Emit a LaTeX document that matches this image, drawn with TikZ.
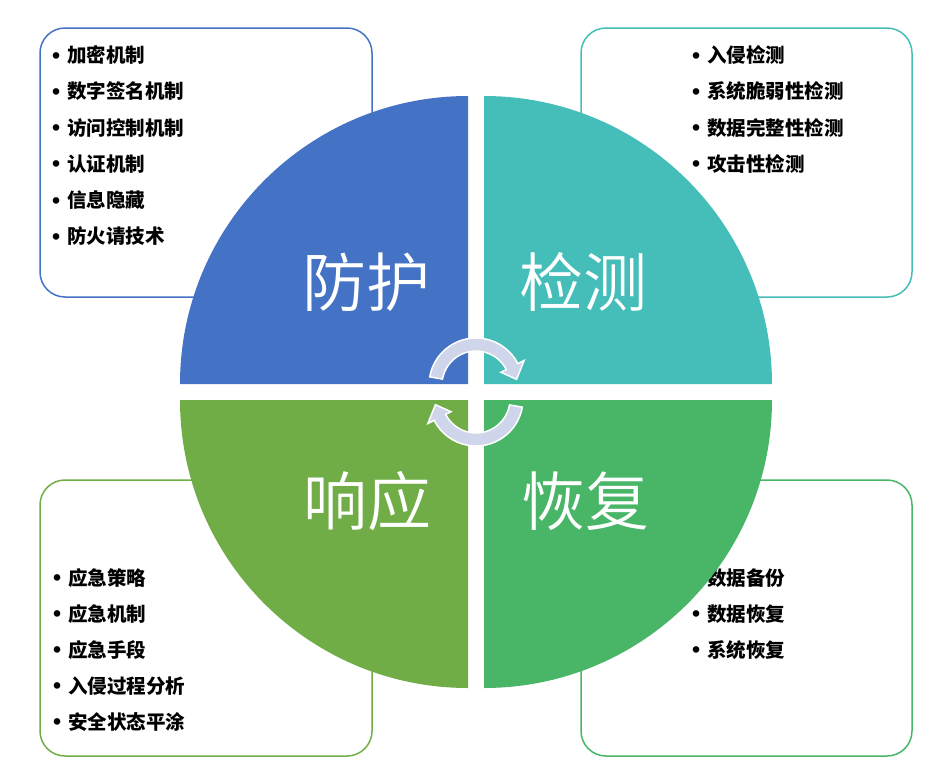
\documentclass[tikz,border=0pt]{standalone}
\usepackage{fontspec}
\setmainfont{Noto Sans CJK SC}
\newfontfamily\biglabelfont{Noto Sans CJK SC DemiLight}
\newfontfamily\bulletfont{Liberation Sans}
\definecolor{cBlue}{HTML}{4472C4}
\definecolor{cTeal}{HTML}{45BDB8}
\definecolor{cGreenA}{HTML}{70AD47}
\definecolor{cGreenB}{HTML}{48B567}
\definecolor{cArrow}{HTML}{CFD5EA}
\tikzset{
  listbox/.style={line width=1.5pt, rounded corners=25pt, fill=white},
  item/.style={anchor=west, inner sep=0pt, font=\fontsize{19.5}{20}\selectfont\bfseries, text=black},
  bigtext/.style={anchor=center, inner sep=0pt, font=\biglabelfont\fontsize{64}{64}\selectfont, text=white},
  cyclearrow/.style={fill=cArrow, draw=white, line width=1.5pt, line join=miter}
}
\newcommand{\bul}{\makebox[15pt][l]{\bulletfont\bfseries\fontsize{23}{23}\selectfont\raisebox{-0.5pt}{\textbullet}}}
\begin{document}
\begin{tikzpicture}[x=1pt, y=-1pt]
\useasboundingbox (0,0) rectangle (943,777);
% boxes
\draw[listbox, draw=cBlue] (40,28) rectangle (372,297);
\draw[listbox, draw=cTeal] (581,28) rectangle (912,297);
\draw[listbox, draw=cGreenA] (40,480) rectangle (372,756);
\draw[listbox, draw=cGreenB] (581,480) rectangle (912,756);
% lists
\foreach \t [count=\i] in {加密机制,数字签名机制,访问控制机制,认证机制,信息隐藏,防火请技术}
  \node[item] (tl\i) at (52,{55+36.3*(\i-1)}) {\bul\t};
\foreach \t [count=\i] in {入侵检测,系统脆弱性检测,数据完整性检测,攻击性检测}
  \node[item] (tr\i) at (692,{55+36.3*(\i-1)}) {\bul\t};
\foreach \t [count=\i] in {应急策略,应急机制,应急手段,入侵过程分析,安全状态平涂}
  \node[item] (bl\i) at (53,{578+36*(\i-1)}) {\bul\t};
\foreach \t [count=\i] in {数据备份,数据恢复,系统恢复}
  \node[item] (br\i) at (692,{578+36*(\i-1)}) {\bul\t};
% quadrants
\fill[cBlue] (468,384) -- (180,384) arc[start angle=180, end angle=270, radius=288] -- cycle;
\fill[cTeal] (484,384) -- (484,96) arc[start angle=270, end angle=360, radius=288] -- cycle;
\fill[cGreenA] (468,400) -- (468,688) arc[start angle=90, end angle=180, radius=288] -- cycle;
\fill[cGreenB] (484,400) -- (772,400) arc[start angle=0, end angle=90, radius=288] -- cycle;
% labels
\node[bigtext] (fh) at (366,282) {防护};
\node[bigtext] (jc) at (583,282) {检测};
\node[bigtext] (xy) at (367,501) {响应};
\node[bigtext] (hf) at (585,501) {恢复};
% cycle arrows
\begin{scope}[shift={(476,385)}]
\draw[cyclearrow] (190:47) arc[start angle=190, end angle=333, radius=47]
  -- (333:54) -- (352:41) -- (333:28) -- (333:34)
  arc[start angle=333, end angle=190, radius=34] -- cycle;
\end{scope}
\begin{scope}[shift={(476,399)}]
\draw[cyclearrow] (10:47) arc[start angle=10, end angle=153, radius=47]
  -- (153:54) -- (172:41) -- (153:28) -- (153:34)
  arc[start angle=153, end angle=10, radius=34] -- cycle;
\end{scope}
\end{tikzpicture}
\end{document}
